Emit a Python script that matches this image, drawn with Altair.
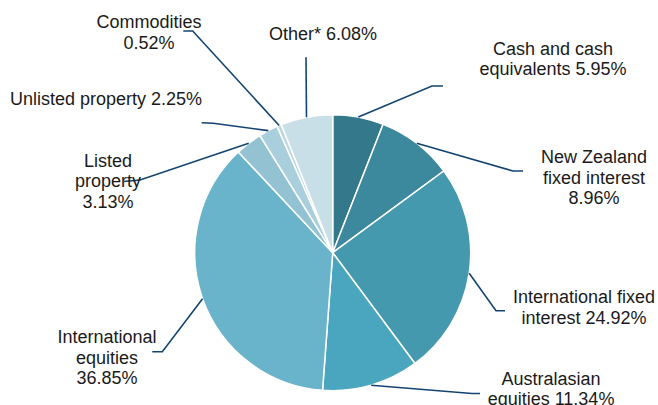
import altair as alt
import pandas as pd
import numpy as np

# ---- data ----
categories = ["Cash and cash equivalents", "New Zealand fixed interest",
              "International fixed interest", "Australasian equities",
              "International equities", "Listed property", "Unlisted property",
              "Commodities", "Other*"]
values = [5.95, 8.96, 24.92, 11.34, 36.85, 3.13, 2.25, 0.52, 6.08]

# label line templates ({v} replaced by the value)
label_lines = [
    ["Cash and cash", "equivalents {v}%"],
    ["New Zealand", "fixed interest", "{v}%"],
    ["International fixed", "interest {v}%"],
    ["Australasian", "equities {v}%"],
    ["International", "equities", "{v}%"],
    ["Listed", "property", "{v}%"],
    ["Unlisted property {v}%"],
    ["Commodities", "{v}%"],
    ["Other* {v}%"],
]

# ---- styling / layout ----
colors = ["#34798B", "#3C889C", "#4499AF", "#4AA6BF", "#69B4CB",
          "#93C3D3", "#AACFDC", "#BBD8E2", "#C9DFE7"]
CX, CY, R = 332.7, 252.7, 138
W, H = 658, 405
label_pos = [(553, 54.5), (594, 163), (584, 303), (551, 384.5), (107, 343),
             (108, 166.5), (106, 104.5), (149, 28), (323, 39.5)]
leader_tail = [
    [(432, 86), (443, 86)],
    [(513, 171), (523, 171)],
    [(496, 310.7), (505, 310.7)],
    [(472, 393.5), (480, 393.5)],
    [(162.3, 351.7), (152.3, 351.7)],
    [(140, 180), (124, 181.5)],
    [(213.3, 123.3), (201.7, 122.7)],
    [(192.7, 31), (183.3, 31)],
    [(306, 57.3)],
]

# ---- tables ----
pie_df = pd.DataFrame({"cat": categories, "value": values, "idx": range(len(values))})

vals = np.array(values)
cum = np.cumsum(vals) - vals / 2
ang = cum / vals.sum() * 2 * np.pi
rows = []
for i, c in enumerate(categories):
    sx = CX + R * np.sin(ang[i])
    sy = CY - R * np.cos(ang[i])
    pts = [(sx, sy)] + leader_tail[i]
    for j, (px, py) in enumerate(pts):
        rows.append({"cat": c, "pt": j, "x": px, "y": py})
line_df = pd.DataFrame(rows)

text_rows = []
for i, c in enumerate(categories):
    txt = "\n".join(l.replace("{v}", f"{values[i]:.2f}") for l in label_lines[i])
    text_rows.append({"cat": c, "label": txt, "x": label_pos[i][0], "y": label_pos[i][1]})
text_df = pd.DataFrame(text_rows)

xs = alt.Scale(domain=[0, W], range=[0, W], nice=False, zero=False)
ys = alt.Scale(domain=[0, H], range=[0, H], nice=False, zero=False)

pie = alt.Chart(pie_df).mark_arc(radius=R, stroke="white", strokeWidth=1.5).encode(
    theta=alt.Theta("value:Q", stack=True),
    color=alt.Color("cat:N", scale=alt.Scale(domain=categories, range=colors), legend=None),
    order=alt.Order("idx:Q"),
    x=alt.value(CX),
    y=alt.value(CY),
)

lines = alt.Chart(line_df).mark_line(color="#134471", strokeWidth=1.6).encode(
    x=alt.X("x:Q", scale=xs, axis=None),
    y=alt.Y("y:Q", scale=ys, axis=None),
    detail="cat:N",
    order="pt:Q",
)

texts = alt.Chart(text_df).mark_text(
    font="Liberation Sans", fontSize=18, lineHeight=20.5, align="center",
    baseline="alphabetic", color="#1a1a1a", lineBreak="\n"
).encode(
    x=alt.X("x:Q", scale=xs, axis=None),
    y=alt.Y("y:Q", scale=ys, axis=None),
    text="label:N",
)

chart = alt.layer(pie, lines, texts).properties(
    width=W, height=H, autosize="none", padding=0
).configure_view(stroke=None)

chart.save("out.html", embed_options={"renderer": "svg", "actions": False})
